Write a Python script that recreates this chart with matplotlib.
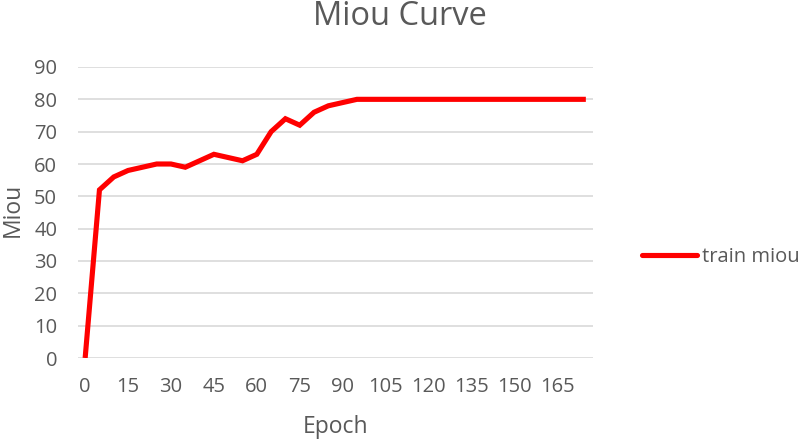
import matplotlib
matplotlib.use("Agg")
import matplotlib.pyplot as plt

epochs = list(range(0, 180, 5))
miou = [0, 52, 56, 58, 59, 60, 60, 59, 61, 63, 62, 61, 63, 70, 74, 72, 76, 78, 79, 80,
        80, 80, 80, 80, 80, 80, 80, 80, 80, 80, 80, 80, 80, 80, 80, 80]
tick_labels = [str(e) for e in epochs]
yticks = [0, 10, 20, 30, 40, 50, 60, 70, 80, 90]

plt.rcParams['font.family'] = ['Open Sans', 'DejaVu Sans']
gray = '#595959'
W, H = 800, 441

fig = plt.figure(figsize=(8, 4.41), dpi=100)
ax = fig.add_axes([78/W, 1-358/H, (593-78)/W, (358-67)/H])
idx = list(range(len(epochs)))
ax.plot(idx, miou, color='#FF0000', lw=3.7, solid_capstyle='butt',
        solid_joinstyle='miter', label='train miou')
ax.set_xlim(-0.5, len(epochs) - 0.5)
ax.set_ylim(0, 90)
ax.set_yticks(yticks)
ax.set_xticks(idx[::3])
ax.set_xticklabels(tick_labels[::3])
ax.grid(axis='y', color='#D9D9D9', lw=1.2)
ax.set_axisbelow(True)
for s in ax.spines.values():
    s.set_visible(False)
ax.tick_params(length=0, labelsize=14.5, colors=gray)
ax.tick_params(axis='x', pad=14)
ax.tick_params(axis='y', pad=15)

fig.text(400/W, 1-25/H, 'Miou Curve', fontsize=23.5, color=gray, ha='center', va='baseline')
fig.text(335.5/W, 1-433/H, 'Epoch', fontsize=16.5, color=gray, ha='center', va='baseline')
fig.text(13/W, 1-210/H, 'Miou', fontsize=16.5, color=gray, ha='center', va='center', rotation=90)

leg = ax.legend(loc='center left', bbox_to_anchor=(642/W, 1-257/H),
                bbox_transform=fig.transFigure, frameon=False, borderpad=0,
                borderaxespad=0, fontsize=14.5, handlelength=2.75, handletextpad=0.25)
for t in leg.get_texts():
    t.set_color(gray)
for h in leg.get_lines():
    h.set_solid_capstyle('round')
fig.savefig('out.png', dpi=100)
